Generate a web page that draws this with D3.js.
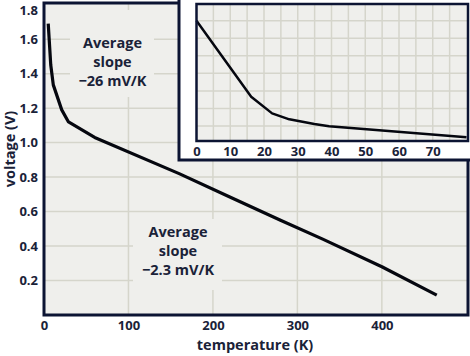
<!DOCTYPE html>
<html><head><meta charset="utf-8">
<script src="https://cdn.jsdelivr.net/npm/d3@7"></script>
<style>
html,body{margin:0;padding:0;background:#fff;}
svg{display:block;}
text{font-family:"Open Sans","Noto Sans",sans-serif;font-weight:700;fill:#1a2238;}
</style></head>
<body>
<svg id="chart" width="470" height="356"></svg>
<script>
// ---- Data ----
const mainTemps    = [5, 8, 11, 21, 29, 60, 160, 220, 280, 330, 400, 465];
const mainVoltages = [1.69, 1.45, 1.335, 1.19, 1.12, 1.03, 0.82, 0.685, 0.55, 0.44, 0.28, 0.115];
const mainXTicks = [0, 100, 200, 300, 400];
const mainYTicks = [0.2, 0.4, 0.6, 0.8, 1.0, 1.2, 1.4, 1.6, 1.8];

const insetTemps    = [0, 16.2, 22.4, 27.5, 34.9, 39.3, 80];
const insetVoltages = [1.70, 1.267, 1.172, 1.138, 1.111, 1.099, 1.036];
const insetXTicks = [0, 10, 20, 30, 40, 50, 60, 70];
const insetXGrid  = [5, 10, 15, 20, 25, 30, 35, 40, 45, 50, 55, 60, 65, 70, 75];
const insetYGrid  = [1.1, 1.2, 1.3, 1.4, 1.5, 1.6, 1.7];

const noteTop    = ["Average", "slope", "\u221226 mV/K"];
const noteBottom = ["Average", "slope", "\u22122.3 mV/K"];

// ---- Style ----
const plotBg = "#efefec", gridCol = "#d5d5cb", frameCol = "#0c1433", lineCol = "#05070f";

const svg = d3.select("#chart");

// ---- Main chart ----
const x = d3.scaleLinear().domain([0, 502]).range([44, 468]);
const y = d3.scaleLinear().domain([0, 1.81]).range([315, 3]);

svg.append("rect").attr("x", x(0)).attr("y", y(1.81))
  .attr("width", x(502) - x(0)).attr("height", y(0) - y(1.81)).attr("fill", plotBg);

const g = svg.append("g");
g.selectAll(".vg").data(mainXTicks.filter(d => d > 0)).join("line")
  .attr("x1", d => x(d)).attr("x2", d => x(d)).attr("y1", y(1.81)).attr("y2", y(0))
  .attr("stroke", gridCol).attr("stroke-width", 1.5);
g.selectAll(".hg").data(mainYTicks.filter(d => d < 1.8)).join("line")
  .attr("y1", d => y(d)).attr("y2", d => y(d)).attr("x1", x(0)).attr("x2", x(502))
  .attr("stroke", gridCol).attr("stroke-width", 1.5);

// text background boxes (cover grid)
function note(lines, cx, cy0, box) {
  svg.append("rect").attr("x", box[0]).attr("y", box[1]).attr("width", box[2]).attr("height", box[3]).attr("fill", plotBg);
  svg.append("text").attr("text-anchor", "middle").attr("font-size", 14.5)
    .selectAll("tspan").data(lines).join("tspan")
    .attr("x", cx).attr("y", (d, i) => cy0 + i * 19).text(d => d);
}
note(noteTop, 112.5, 47.5, [70, 10, 84, 87]);
note(noteBottom, 178, 237, [133, 219, 89, 71]);

const line = d3.line().x((d, i) => x(mainTemps[i])).y((d, i) => y(mainVoltages[i]));
svg.append("path").datum(mainVoltages).attr("d", line)
  .attr("fill", "none").attr("stroke", lineCol).attr("stroke-width", 3.2).attr("stroke-linejoin", "round");

// frame
svg.append("rect").attr("x", x(0)).attr("y", y(1.81))
  .attr("width", x(502) - x(0)).attr("height", y(0) - y(1.81))
  .attr("fill", "none").attr("stroke", frameCol).attr("stroke-width", 3);

// axes
const xAxis = svg.append("g").attr("transform", `translate(0,${y(0)})`)
  .call(d3.axisBottom(x).tickValues(mainXTicks).tickSize(0).tickPadding(6).tickFormat(d3.format("d")));
xAxis.select(".domain").remove();
xAxis.selectAll("text").attr("font-size", 13).attr("font-family", null).style("fill", "#1a2238");

const yAxis = svg.append("g").attr("transform", `translate(${x(0)},0)`)
  .call(d3.axisLeft(y).tickValues(mainYTicks).tickSize(0).tickPadding(6).tickFormat(d3.format(".1f")));
yAxis.select(".domain").remove();
yAxis.selectAll("text").attr("font-size", 13).attr("font-family", null).style("fill", "#1a2238")
  .attr("dy", d => d === 1.8 ? "0.72em" : "0.32em");

svg.append("text").attr("x", 255).attr("y", 350).attr("text-anchor", "middle").attr("font-size", 14.5)
  .text("temperature (K)");
svg.append("text").attr("transform", "translate(15,149) rotate(-90)").attr("text-anchor", "middle").attr("font-size", 14.5)
  .text("voltage (V)");

// ---- Inset ----
svg.append("rect").attr("x", 179).attr("y", -10).attr("width", 300).attr("height", 170)
  .attr("fill", "#fff").attr("stroke", frameCol).attr("stroke-width", 3);

const xi = d3.scaleLinear().domain([0, 80]).range([196.5, 466.5]);
const yi = d3.scaleLinear().domain([1.0145, 1.795]).range([141, 4]);

svg.append("rect").attr("x", xi(0)).attr("y", yi(1.795)).attr("width", 468 - xi(0)).attr("height", yi(1.0145) - yi(1.795))
  .attr("fill", plotBg);
const gi = svg.append("g");
gi.selectAll(".vg").data(insetXGrid).join("line")
  .attr("x1", d => xi(d)).attr("x2", d => xi(d)).attr("y1", yi(1.795)).attr("y2", yi(1.0145))
  .attr("stroke", gridCol).attr("stroke-width", 1.5);
gi.selectAll(".hg").data(insetYGrid).join("line")
  .attr("y1", d => yi(d)).attr("y2", d => yi(d)).attr("x1", xi(0)).attr("x2", 468)
  .attr("stroke", gridCol).attr("stroke-width", 1.5);

const lineI = d3.line().x((d, i) => xi(insetTemps[i])).y((d, i) => yi(insetVoltages[i]));
svg.append("path").datum(insetVoltages).attr("d", lineI)
  .attr("fill", "none").attr("stroke", lineCol).attr("stroke-width", 2.5).attr("stroke-linejoin", "round");

svg.append("rect").attr("x", xi(0)).attr("y", yi(1.795)).attr("width", 468 - xi(0)).attr("height", yi(1.0145) - yi(1.795))
  .attr("fill", "none").attr("stroke", frameCol).attr("stroke-width", 2.5);

const xiAxis = svg.append("g").attr("transform", `translate(0,${yi(1.0145)})`)
  .call(d3.axisBottom(xi).tickValues(insetXTicks).tickSize(0).tickPadding(6).tickFormat(d3.format("d")));
xiAxis.select(".domain").remove();
xiAxis.selectAll("text").attr("font-size", 13).attr("font-family", null).style("fill", "#1a2238");
</script>
</body></html>
